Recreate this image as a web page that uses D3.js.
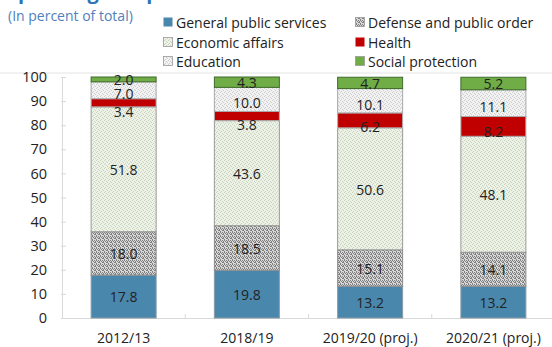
<!DOCTYPE html>
<html>
<head>
<meta charset="utf-8">
<script src="https://cdn.jsdelivr.net/npm/d3@7"></script>
<style>
  html, body { margin: 0; padding: 0; background: #fff; }
  svg { display: block; font-family: "Open Sans", "Noto Sans", sans-serif; }
</style>
</head>
<body>
<svg id="chart" width="552" height="347"></svg>
<script>
// Spending composition by function, percent of total
const categories = ["2012/13", "2018/19", "2019/20 (proj.)", "2020/21 (proj.)"];
const seriesNames = ["General public services", "Defense and public order", "Economic affairs",
                     "Health", "Education", "Social protection"];
const generalPublic = [17.8, 19.8, 13.2, 13.2];
const defense       = [18.0, 18.5, 15.1, 14.1];
const economic      = [51.8, 43.6, 50.6, 48.1];
const health        = [3.4, 3.8, 6.2, 8.2];
const education     = [7.0, 10.0, 10.1, 11.1];
const social        = [2.0, 4.3, 4.7, 5.2];
const yTicks = [0, 10, 20, 30, 40, 50, 60, 70, 80, 90, 100];

const seriesValues = [generalPublic, defense, economic, health, education, social];
const rows = categories.map((c, i) => {
  const r = { cat: c };
  seriesNames.forEach((s, j) => r[s] = seriesValues[j][i]);
  return r;
});

const svg = d3.select("#chart");
const defs = svg.append("defs");

// Stipple fills: a 4x4 tile with scattered dots
function stipple(id, base, dot, cells) {
  const p = defs.append("pattern").attr("id", id).attr("patternUnits", "userSpaceOnUse")
    .attr("width", 4).attr("height", 4);
  p.append("rect").attr("width", 4).attr("height", 4).attr("fill", base);
  cells.forEach(([cx, cy]) =>
    p.append("rect").attr("x", cx).attr("y", cy).attr("width", 1).attr("height", 1).attr("fill", dot));
}
stipple("patDefense", "#d8d8d8", "#808080", [[0, 0], [2, 0], [1, 1], [3, 2], [0, 3], [2, 2], [3, 1]]);
stipple("patEcon", "#edf2e7", "#c9d3bf", [[0, 0], [2, 1], [1, 3], [3, 2]]);
stipple("patEdu", "#f2f2f2", "#cdcdcd", [[0, 0], [2, 1], [1, 3], [3, 2]]);

const fills = {
  "General public services": "#4a87ad",
  "Defense and public order": "url(#patDefense)",
  "Economic affairs": "url(#patEcon)",
  "Health": "#c00000",
  "Education": "url(#patEdu)",
  "Social protection": "#70ad47"
};
const strokes = {
  "General public services": "#8a9aa6",
  "Defense and public order": "#8c8c8c",
  "Economic affairs": "#9a9a9a",
  "Health": "#b0b0b0",
  "Education": "#a8a8a8",
  "Social protection": "#3f6b2a"
};

// Title (partially above the frame) and subtitle
svg.append("text").attr("x", 7).attr("y", -1)
  .attr("font-size", 20).attr("font-weight", 700).attr("fill", "#2e74b5")
  .text("Spending composition");
svg.append("text").attr("x", 8).attr("y", 21)
  .attr("font-size", 14).attr("fill", "#4f81bd")
  .text("(In percent of total)");

// Separator line
svg.append("line").attr("x1", 0).attr("x2", 552).attr("y1", 73).attr("y2", 73)
  .attr("stroke", "#e4e4e4").attr("stroke-width", 1);

// Legend
const legendPos = [[163, 23], [355, 23], [163, 43], [355, 43], [163, 62], [355, 62]];
const legend = svg.append("g");
seriesNames.forEach((s, i) => {
  const [lx, ly] = legendPos[i];
  legend.append("rect").attr("x", lx + 0.5).attr("y", ly - 5.5).attr("width", 9).attr("height", 9)
    .attr("fill", fills[s]).attr("stroke", s === "General public services" || s === "Health" ? "none" : "#9a9a9a")
    .attr("stroke-width", 0.8);
  legend.append("text").attr("x", lx + 13).attr("y", ly).attr("dy", "0.35em")
    .attr("font-size", 14).attr("fill", "#222").text(s);
});

// Scales
const x = d3.scaleBand().domain(categories).range([62, 555]);
const barW = 66;
const y = d3.scaleLinear().domain([0, 100]).range([318, 77]);

// Axes
const yAxis = svg.append("g").attr("transform", "translate(62,0)")
  .call(d3.axisLeft(y).tickValues(yTicks).tickSize(0).tickPadding(15));
yAxis.select(".domain").attr("stroke", "#d9d9d9");
yAxis.selectAll("text").attr("font-size", 14.5).attr("fill", "#222")
  .attr("font-family", "'Open Sans', 'Noto Sans', sans-serif");
yAxis.selectAll(".tick").append("line").attr("x1", -1).attr("x2", 4).attr("stroke", "#d9d9d9");

const xAxis = svg.append("g").attr("transform", "translate(0,318)")
  .call(d3.axisBottom(x).tickSize(0).tickPadding(15));
xAxis.select(".domain").attr("stroke", "#d9d9d9");
xAxis.selectAll("text").attr("font-size", 14).attr("fill", "#222")
  .attr("font-family", "'Open Sans', 'Noto Sans', sans-serif");
// Category separators
xAxis.selectAll(".sep").data(categories.slice(1)).enter().append("line")
  .attr("x1", d => x(d)).attr("x2", d => x(d)).attr("y1", -4).attr("y2", 0)
  .attr("stroke", "#d9d9d9");

// Stacked bars
const stack = d3.stack().keys(seriesNames)(rows);
const barsG = svg.append("g");
stack.forEach(layer => {
  const key = layer.key;
  barsG.selectAll(null).data(layer).enter().append("rect")
    .attr("x", d => x(d.data.cat) + x.bandwidth() / 2 - barW / 2 + 0.5)
    .attr("y", d => y(d[1]))
    .attr("width", barW - 1)
    .attr("height", d => y(d[0]) - y(d[1]))
    .attr("fill", fills[key])
    .attr("stroke", strokes[key])
    .attr("stroke-width", 1);
});

// Value labels
const labelsG = svg.append("g");
stack.forEach(layer => {
  const key = layer.key;
  labelsG.selectAll(null).data(layer).enter().append("text")
    .attr("x", d => x(d.data.cat) + x.bandwidth() / 2)
    .attr("y", d => {
      const top = y(d[1]), bot = y(d[0]);
      if (key === "Health") return bot + 12 - 0.83 * (bot - top);
      if (key === "Education") return (top + bot) / 2 + 4;
      return (top + bot) / 2 + 1;
    })
    .attr("dy", "0.35em")
    .attr("text-anchor", "middle")
    .attr("font-size", 14)
    .attr("fill", "#222")
    .text(d => (d[1] - d[0]).toFixed(1));
});
</script>
</body>
</html>
